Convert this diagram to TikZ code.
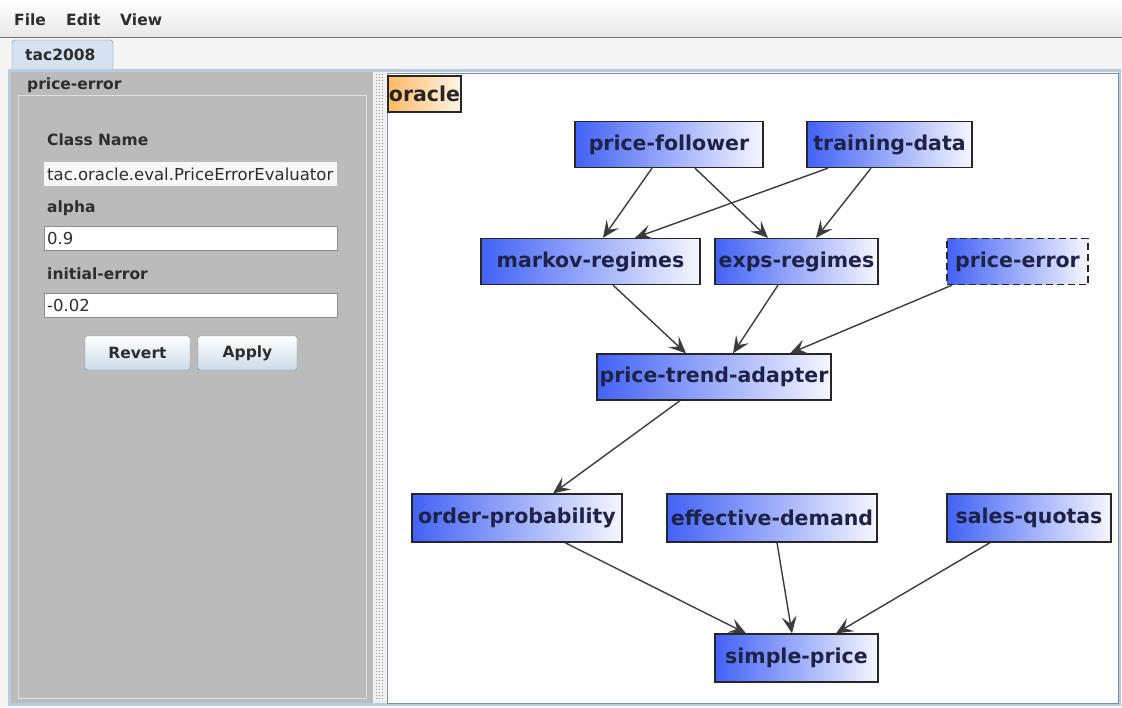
\documentclass[tikz,border=0pt]{standalone}
\usepackage{fontspec}
\setmainfont{DejaVu Sans}
\usetikzlibrary{arrows.meta}
\definecolor{nodeblue}{RGB}{66,98,245}
\definecolor{nodepale}{RGB}{246,246,255}
\definecolor{nodeink}{RGB}{30,34,70}
\definecolor{panelgray}{RGB}{187,187,187}
\definecolor{frameblue}{RGB}{184,204,224}
\definecolor{tabblue}{RGB}{214,226,240}
\definecolor{edgegray}{RGB}{60,60,60}
\definecolor{oracleorange}{RGB}{255,185,100}
\definecolor{uiink}{RGB}{45,45,45}

\begin{document}
\begin{tikzpicture}[
  x = 1pt, y = -1pt,
  block/.style = {
    draw = black!85,
    line width = 1.3pt,
    left color = nodeblue,
    right color = nodepale,
    text = nodeink,
    font = \fontsize{20.5}{20.5}\selectfont\bfseries,
    minimum height = 46pt,
    inner sep = 0pt
  },
  edge/.style = {
    draw = edgegray,
    line width = 1.4pt,
    -{Stealth[length = 17pt, width = 15pt, inset = 7pt]}
  },
  uitext/.style = {
    anchor = west,
    text = uiink,
    font = \fontsize{15.5}{15.5}\selectfont\bfseries,
    inner sep = 0pt
  },
  field/.style = {
    anchor = west,
    draw = black!45,
    fill = white,
    minimum width = 293pt,
    minimum height = 24pt,
    text width = 287pt,
    inner xsep = 3pt,
    inner ysep = 0pt,
    text = uiink,
    font = \fontsize{16.5}{16.5}\selectfont
  },
  button/.style = {
    draw = black!35!frameblue,
    rounded corners = 2pt,
    top color = white,
    bottom color = frameblue!70,
    minimum height = 34pt,
    text = uiink,
    font = \fontsize{15.5}{15.5}\selectfont\bfseries
  }
]
  % window
  \useasboundingbox (0,0) rectangle (1122,707);
  \fill[black!4] (0,0) rectangle (1122,707);
  \shade[top color = white, bottom color = black!9] (0,0) rectangle (1122,37);
  \draw[black!55] (0,37.5) -- (1122,37.5);

  \node[uitext] (file) at (14,20) {File};
  \node[uitext] (edit) at (66,20) {Edit};
  \node[uitext] (view) at (120,20) {View};

  \draw[fill = tabblue, draw = black!35!frameblue, rounded corners = 3pt]
    (12,69) -- (12,40) -- (113,40) -- (113,69);
  \node[uitext] (tab) at (25,55) {tac2008};

  \draw[frameblue, line width = 3pt] (9.5,70.5) rectangle (1119.5,704.5);

  % property panel
  \fill[panelgray] (11,72) rectangle (373,703);
  \draw[black!12, line width = 1pt] (18,95) rectangle (366,698);
  \node[uitext] (title) at (27,85) {price-error};

  \node[uitext] (classname) at (47,140) {Class Name};
  \node[field, draw = none, fill = black!3] (classfield) at (44,174)
    {tac.oracle.eval.PriceErrorEvaluator};
  \node[uitext] (alpha) at (47,208) {alpha};
  \node[field] (alphafield) at (44,238) {0.9};
  \node[uitext] (initerr) at (47,274) {initial-error};
  \node[field] (initfield) at (44,305) {-0.02};

  \node[button, minimum width = 105pt] (revert) at (137.5,353) {Revert};
  \node[button, minimum width = 99pt] (apply) at (247.5,353) {Apply};

  % splitter
  \fill[black!6] (373,72) rectangle (386,703);
  \foreach \sx in {376.5,379.5,382.5}
    \draw[black!40, line width = 0.6pt, dash pattern = on 0.8pt off 2.2pt] (\sx,74) -- (\sx,701);

  % canvas
  \draw[fill = white, draw = black!30!frameblue] (387,73) rectangle (1118,703);

  \node[block, minimum width = 73pt, minimum height = 36pt, left color = oracleorange,
    right color = oracleorange!15, text = black!85] (oracle) at (424.5,94) {oracle};

  \node[block, minimum width = 188pt] (pf) at (669,144.5) {price-follower};
  \node[block, minimum width = 165pt] (td) at (889.5,144.5) {training-data};
  \node[block, minimum width = 219pt] (mr) at (590.5,261.5) {markov-regimes};
  \node[block, minimum width = 163pt] (er) at (796.5,261.5) {exps-regimes};
  \node[block, minimum width = 141pt, dashed, dash pattern = on 7pt off 4pt] (pe) at (1017.5,261.5) {price-error};
  \node[block, minimum width = 234pt] (pta) at (714,377) {price-trend-adapter};
  \node[block, minimum width = 210pt, minimum height = 48pt] (op) at (517,518) {order-probability};
  \node[block, minimum width = 210pt, minimum height = 48pt] (ed) at (772,518) {effective-demand};
  \node[block, minimum width = 164pt, minimum height = 48pt] (sq) at (1029,518) {sales-quotas};
  \node[block, minimum width = 163pt, minimum height = 48pt] (sp) at (796.5,658) {simple-price};

  \draw[edge] ([xshift = -17]pf.south) -- ([xshift = 12.5]mr.north);
  \draw[edge] ([xshift = 26]pf.south) -- ([xshift = -28.5]er.north);
  \draw[edge] ([xshift = -61.5]td.south) -- ([xshift = 44.5]mr.north);
  \draw[edge] ([xshift = -18.5]td.south) -- ([xshift = 19.5]er.north);
  \draw[edge] ([xshift = 22.5]mr.south) -- ([xshift = -28]pta.north);
  \draw[edge] ([xshift = -18.5]er.south) -- ([xshift = 19]pta.north);
  \draw[edge] ([xshift = -65.5]pe.south) -- ([xshift = 76]pta.north);
  \draw[edge] ([xshift = -34]pta.south) -- ([xshift = 36]op.north);
  \draw[edge] ([xshift = 48]op.south) -- ([xshift = -50.5]sp.north);
  \draw[edge] ([xshift = 5]ed.south) -- ([xshift = -4.5]sp.north);
  \draw[edge] ([xshift = -39]sq.south) -- ([xshift = 39.5]sp.north);
\end{tikzpicture}
\end{document}
